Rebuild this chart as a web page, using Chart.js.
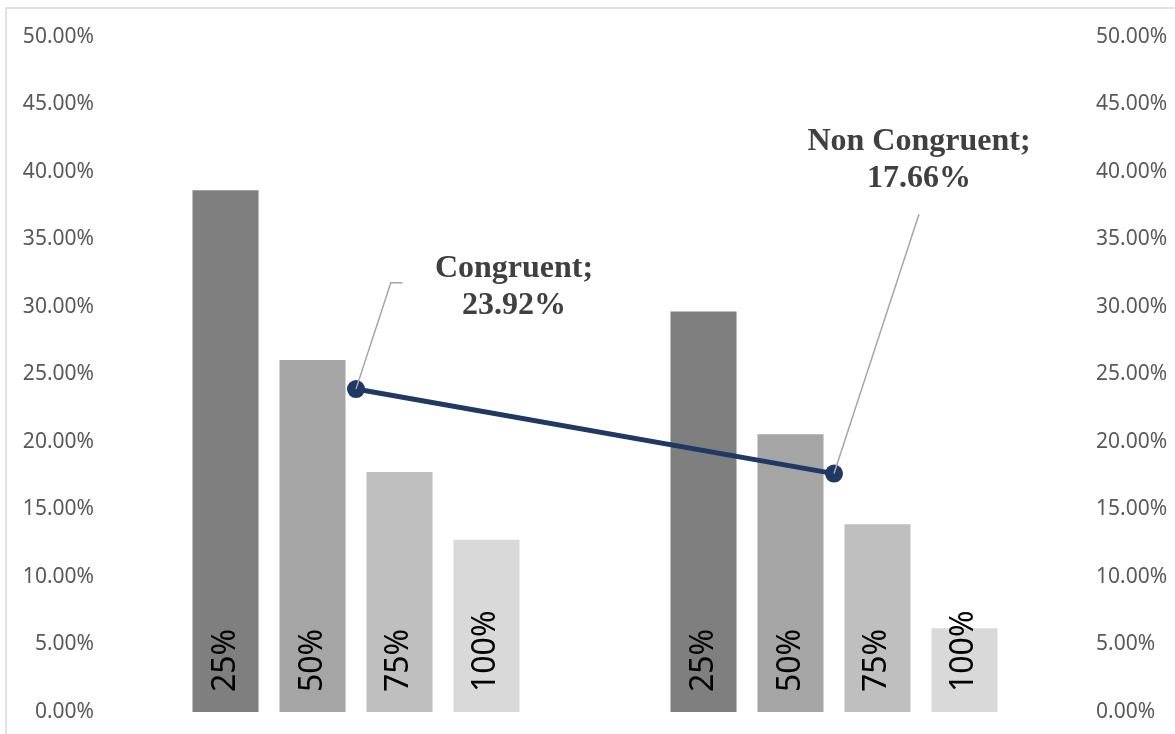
<!DOCTYPE html>
<html>
<head>
<meta charset="utf-8">
<script src="https://cdn.jsdelivr.net/npm/chart.js@4.4.1/dist/chart.umd.min.js"></script>
<style>
  html, body { margin: 0; padding: 0; background: #ffffff; }
  #wrap { position: relative; width: 1175px; height: 734px; overflow: hidden; }
  canvas { display: block; }
</style>
</head>
<body>
<div id="wrap"><canvas id="chart" width="1175" height="734"></canvas></div>
<script>
// Condition groups on the category axis
const categories = ['Congruent', 'Non Congruent'];
// Bar series (one per level), values in percent
const levelNames = ['25%', '50%', '75%', '100%'];
const level25 = [38.72, 29.75];
const level50 = [26.15, 20.64];
const level75 = [17.85, 13.98];
const level100 = [12.84, 6.27];
// Overall value per condition (line series)
const overall = [23.92, 17.66];
// Value axis ticks
const yTicks = [0, 5, 10, 15, 20, 25, 30, 35, 40, 45, 50];

const levelSeries = [level25, level50, level75, level100];
const levelColors = ['#7f7f7f', '#a5a5a5', '#bfbfbf', '#d9d9d9'];

const tickFont = { family: 'Noto Sans', size: 21 };
const formatTick = v => v.toFixed(2) + '%';

// Value axes: fixed width, no extra vertical padding from the labels
function fitValueAxis(width) {
  return scale => {
    scale.width = width;
    scale.paddingTop = 0;
    scale.paddingBottom = 0;
  };
}

// Outer frame of the chart
const framePlugin = {
  id: 'frame',
  beforeDraw(chart) {
    const ctx = chart.ctx;
    ctx.save();
    ctx.strokeStyle = '#d9d9d9';
    ctx.lineWidth = 1.5;
    ctx.strokeRect(6, 8, chart.width + 20, chart.height + 20);
    ctx.restore();
  }
};

// Series names written vertically inside each bar
const barNamePlugin = {
  id: 'barNames',
  afterDatasetsDraw(chart) {
    const ctx = chart.ctx;
    ctx.save();
    ctx.font = '32px "Noto Sans"';
    ctx.fillStyle = '#000000';
    ctx.textAlign = 'left';
    ctx.textBaseline = 'alphabetic';
    chart.data.datasets.forEach((ds, di) => {
      if (ds.type !== 'bar') return;
      const meta = chart.getDatasetMeta(di);
      meta.data.forEach(bar => {
        ctx.save();
        ctx.translate(bar.x + 9, bar.base - 20);
        ctx.rotate(-Math.PI / 2);
        ctx.fillText(ds.label, 0, 0);
        ctx.restore();
      });
    });
    ctx.restore();
  }
};

// Callout labels with leader lines for the line series
const calloutLayout = [
  { dx: 158, dy: -112, elbow: [34.8, -106.4], tail: 46.5 },
  { dx: 85, dy: -323.6, elbow: [85, -259.3], tail: 85 }
];
const calloutPlugin = {
  id: 'callouts',
  afterDatasetsDraw(chart) {
    const di = chart.data.datasets.findIndex(d => d.type === 'line');
    const meta = chart.getDatasetMeta(di);
    const ctx = chart.ctx;
    ctx.save();
    meta.data.forEach((pt, i) => {
      const lay = calloutLayout[i];
      // leader line
      ctx.strokeStyle = '#a6a6a6';
      ctx.lineWidth = 1.5;
      ctx.beginPath();
      ctx.moveTo(pt.x, pt.y);
      ctx.lineTo(pt.x + lay.elbow[0], pt.y + lay.elbow[1]);
      ctx.lineTo(pt.x + lay.tail, pt.y + lay.elbow[1]);
      ctx.stroke();
      // label text
      ctx.font = 'bold 32px "Liberation Serif"';
      ctx.fillStyle = '#404040';
      ctx.textAlign = 'center';
      ctx.textBaseline = 'alphabetic';
      const cx = pt.x + lay.dx;
      const by = pt.y + lay.dy;
      ctx.fillText(categories[i] + ';', cx, by);
      ctx.fillText(overall[i].toFixed(2) + '%', cx, by + 37);
    });
    ctx.restore();
  }
};

const datasets = levelSeries.map((vals, i) => ({
  type: 'bar',
  label: levelNames[i],
  data: vals,
  backgroundColor: levelColors[i],
  borderColor: 'rgba(255,255,255,0.3)',
  borderWidth: 1,
  categoryPercentage: 0.728,
  barPercentage: 0.782,
  yAxisID: 'y',
  order: 1
}));
datasets.push({
  type: 'line',
  label: 'Overall',
  data: overall,
  borderColor: '#1f3864',
  backgroundColor: '#1f3864',
  borderWidth: 5,
  pointRadius: 9,
  pointBackgroundColor: '#1f3864',
  pointBorderWidth: 0,
  tension: 0,
  yAxisID: 'y',
  order: 0
});

new Chart(document.getElementById('chart'), {
  type: 'bar',
  data: { labels: categories, datasets },
  options: {
    responsive: false,
    animation: false,
    devicePixelRatio: 1,
    layout: { padding: { top: 37, bottom: 22, left: 0, right: 0 } },
    plugins: {
      legend: { display: false },
      tooltip: { enabled: false }
    },
    scales: {
      x: {
        type: 'category',
        offset: true,
        display: false,
        grid: { display: false }
      },
      y: {
        position: 'left',
        min: yTicks[0],
        max: yTicks[yTicks.length - 1],
        afterBuildTicks(scale) { scale.ticks = yTicks.map(v => ({ value: v })); },
        afterFit: fitValueAxis(117),
        grid: { display: false, drawTicks: false },
        border: { display: false },
        ticks: { font: tickFont, color: '#595959', padding: 23, callback: formatTick }
      },
      y2: {
        position: 'right',
        display: true,
        min: yTicks[0],
        max: yTicks[yTicks.length - 1],
        afterBuildTicks(scale) { scale.ticks = yTicks.map(v => ({ value: v })); },
        afterFit: fitValueAxis(102),
        grid: { display: false, drawTicks: false },
        border: { display: false },
        ticks: { font: tickFont, color: '#595959', padding: 23, callback: formatTick }
      }
    }
  },
  plugins: [framePlugin, barNamePlugin, calloutPlugin]
});
</script>
</body>
</html>
